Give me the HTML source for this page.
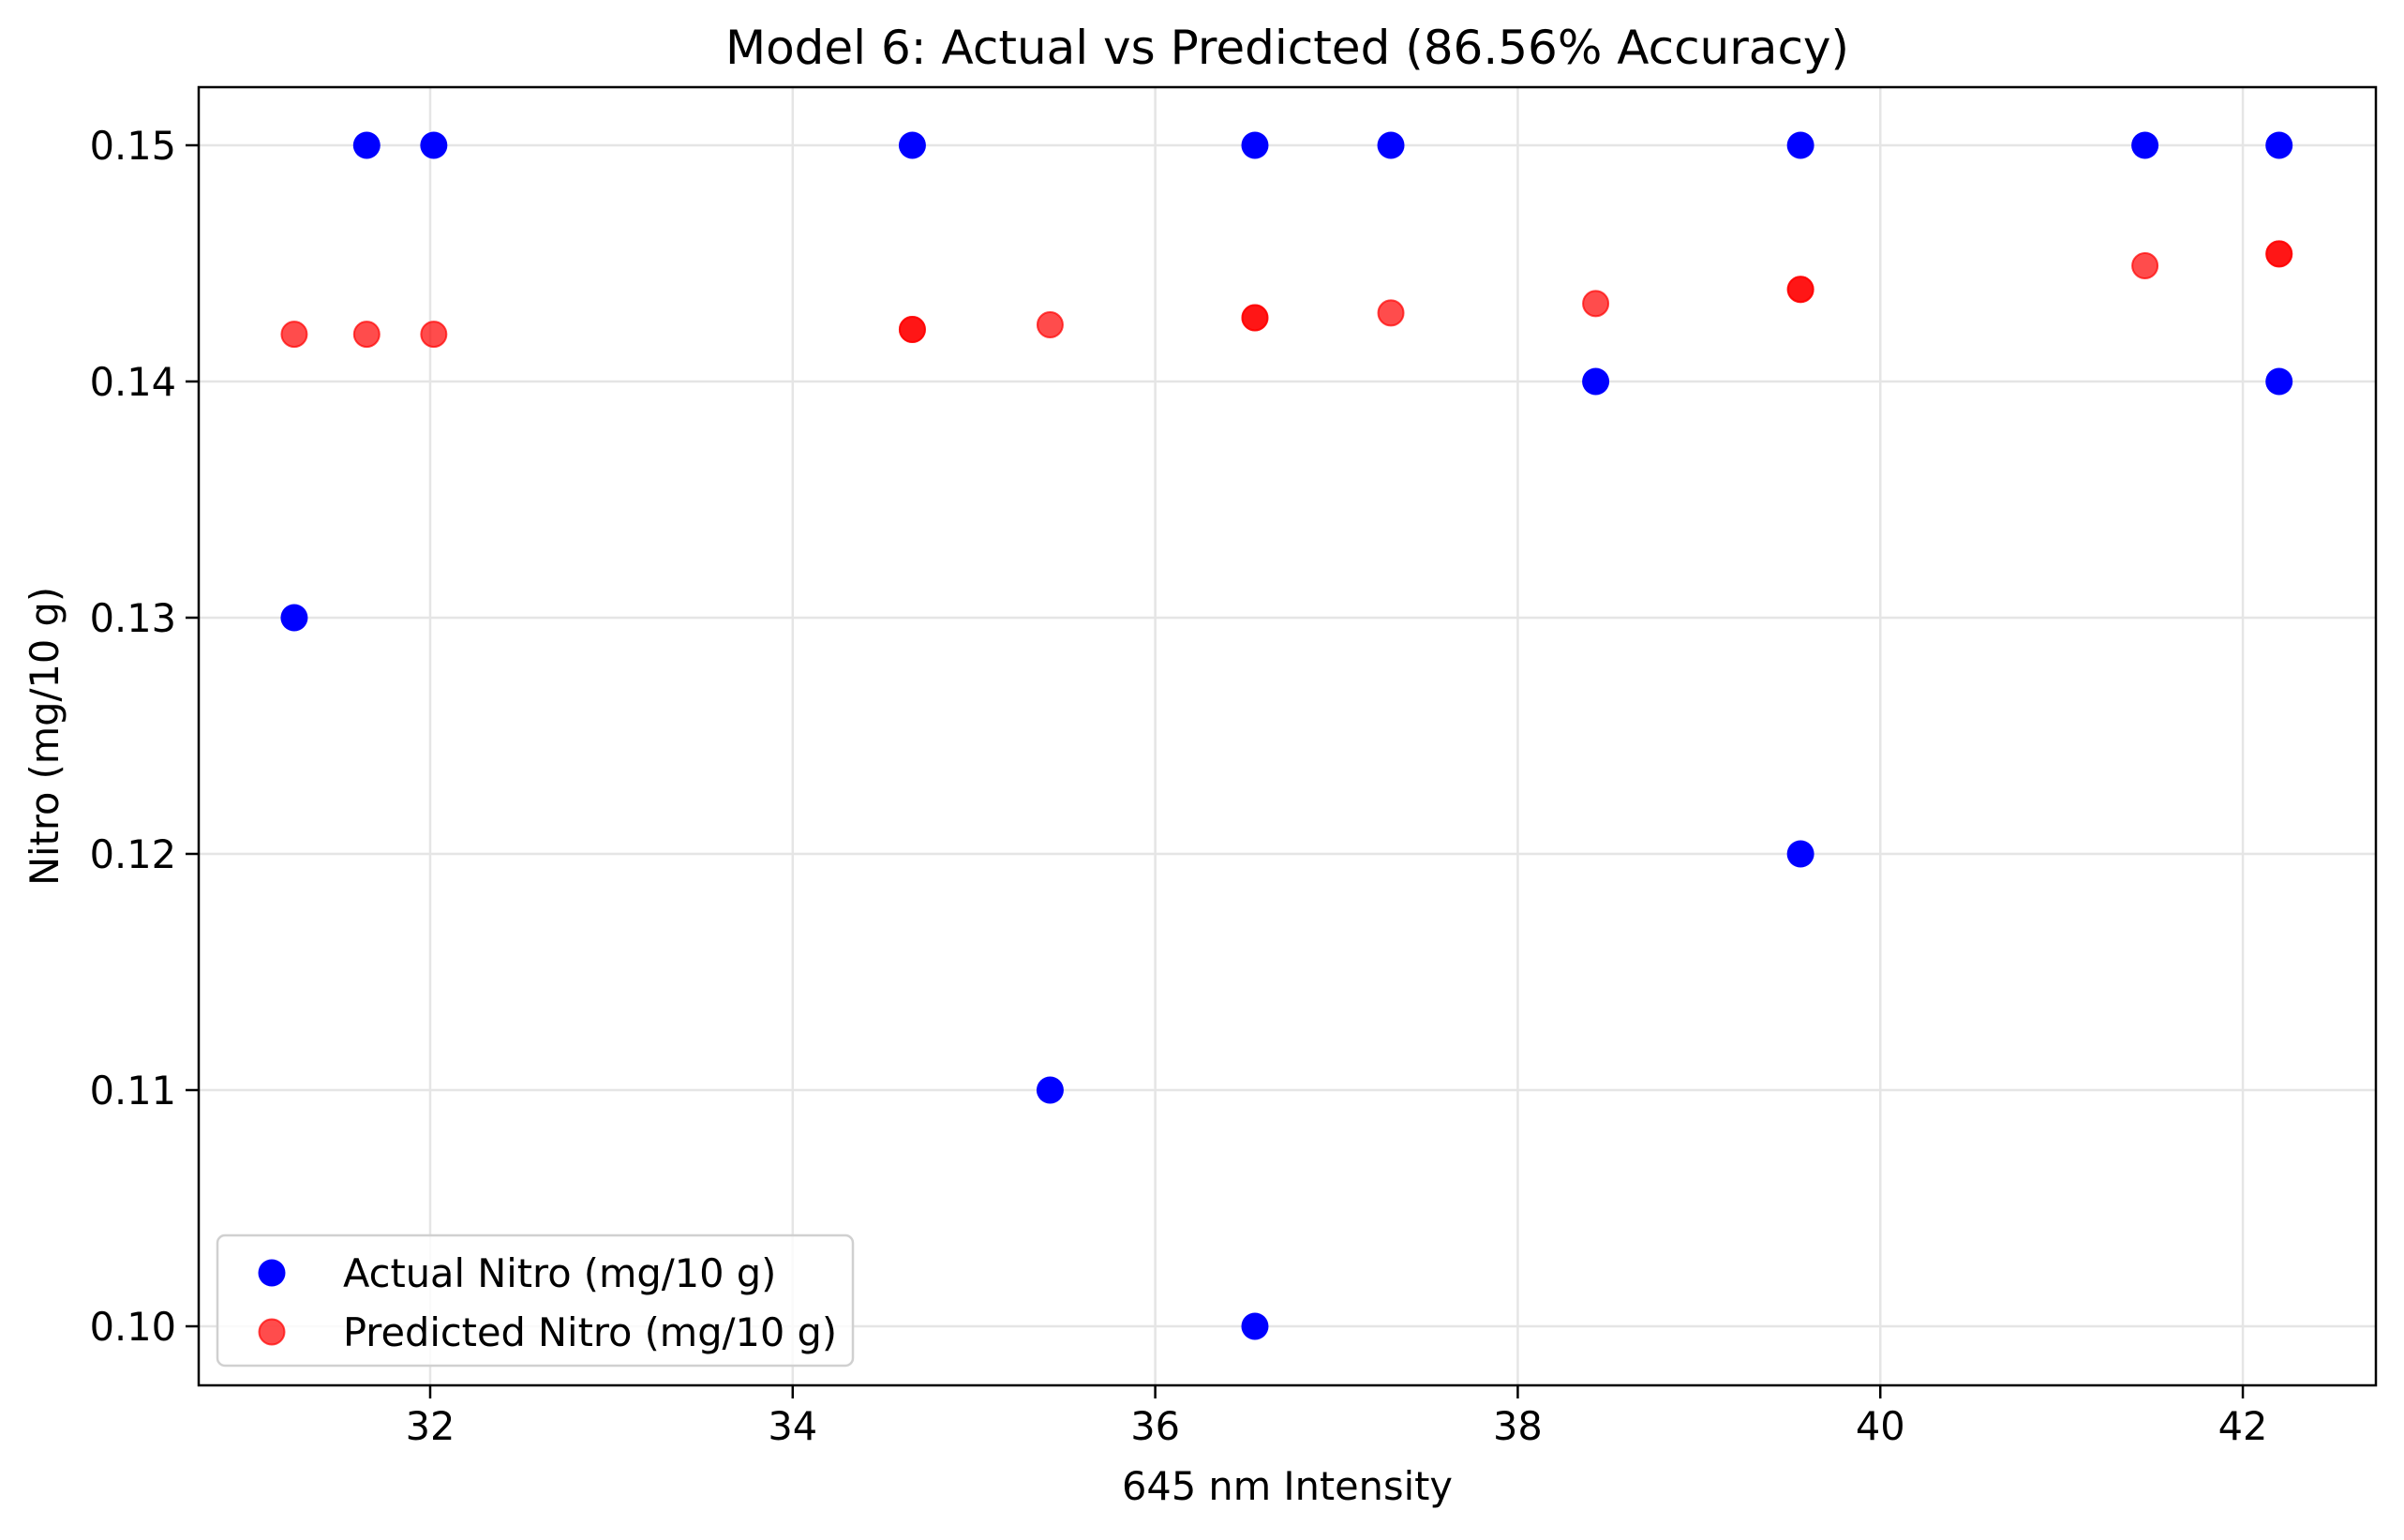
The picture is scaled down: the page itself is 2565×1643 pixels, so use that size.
<!DOCTYPE html>
<html><head><meta charset="utf-8"><style>
body{margin:0;background:#fff;}
svg text{font-family:"DejaVu Sans","Liberation Sans",sans-serif;fill:#000;}
</style></head><body>
<svg id="chart" width="2565" height="1638" viewBox="0 0 2565 1638" xmlns="http://www.w3.org/2000/svg">
<rect width="2565" height="1638" fill="#fff"/>
<g id="grid"></g><g id="marks"></g><g id="axes"></g>
</svg>
<script>
const xTicks=[32,34,36,38,40,42];
const yTicks=[0.10,0.11,0.12,0.13,0.14,0.15];
const yTickLabels=["0.10","0.11","0.12","0.13","0.14","0.15"];
const actualX=[31.25,31.65,32.02,34.66,35.42,36.55,36.55,37.3,38.43,39.56,39.56,41.46,42.2,42.2];
const actualY=[0.13,0.15,0.15,0.15,0.11,0.15,0.10,0.15,0.14,0.15,0.12,0.15,0.15,0.14];
const predX=[31.25,31.65,32.02,34.66,34.66,35.42,36.55,36.55,37.3,38.43,39.56,39.56,41.46,42.2,42.2];
const predY=[0.1420,0.1420,0.1420,0.1422,0.1422,0.1424,0.1427,0.1427,0.1429,0.1433,0.1439,0.1439,0.1449,0.1454,0.1454];
const L=212,R=2535,T=93,B=1478;
const xMin=30.723,xMax=42.734,yMin=0.0975,yMax=0.15246;
const X=v=>L+(v-xMin)/(xMax-xMin)*(R-L);
const Y=v=>B-(v-yMin)/(yMax-yMin)*(B-T);
const NS="http://www.w3.org/2000/svg";
function mk(tag,attrs,parent,text){const e=document.createElementNS(NS,tag);for(const k in attrs)e.setAttribute(k,attrs[k]);if(text!==undefined)e.textContent=text;parent.appendChild(e);return e;}
const grid=document.getElementById('grid'),marks=document.getElementById('marks'),axes=document.getElementById('axes');
xTicks.forEach(t=>{
 const g=mk('line',{x1:X(t),x2:X(t),y1:T,y2:B,stroke:'#e5e5e5','stroke-width':2.5},grid);
 
 
 const tk=mk('line',{x1:X(t),x2:X(t),y1:B,y2:B+14,stroke:'#000','stroke-width':2.5},axes);
 
 
 const lb=mk('text',{x:X(t),y:B+58,'font-size':41.5,'text-anchor':'middle'},axes,String(t));
 
 
});
yTicks.forEach((t,i)=>{
 const g=mk('line',{x1:L,x2:R,y1:Y(t),y2:Y(t),stroke:'#e5e5e5','stroke-width':2.5},grid);
 
 
 const tk=mk('line',{x1:L-14,x2:L,y1:Y(t),y2:Y(t),stroke:'#000','stroke-width':2.5},axes);
 
 
 const lb=mk('text',{x:L-24,y:Y(t)+15,'font-size':41.5,'text-anchor':'end'},axes,yTickLabels[i]);
 
 
});
actualX.forEach((x,i)=>{
 const c=mk('ellipse',{cx:X(x),cy:Y(actualY[i]),rx:14.5,ry:14.5,fill:'#0000ff'},marks);
 
 
});
predX.forEach((x,i)=>{
 const c=mk('ellipse',{cx:X(x),cy:Y(predY[i]),rx:13.5,ry:13.5,fill:'#ff0000','fill-opacity':0.7,stroke:'#ff0000','stroke-opacity':0.7,'stroke-width':2},marks);
 
 
});
const frame=mk('rect',{x:L,y:T,width:R-L,height:B-T,fill:'none',stroke:'#000','stroke-width':2.5},axes);


const title=mk('text',{x:(L+R)/2,y:68,'font-size':50,'text-anchor':'middle'},axes,'Model 6: Actual vs Predicted (86.56% Accuracy)');


const xl=mk('text',{x:(L+R)/2,y:1600,'font-size':41.5,'text-anchor':'middle'},axes,'645 nm Intensity');


const yl=mk('text',{x:0,y:0,'font-size':41.5,'text-anchor':'middle',transform:'translate(62,'+((T+B)/2)+') rotate(-90)'},axes,'Nitro (mg/10 g)');


const lg=mk('g',{},axes);


mk('rect',{x:232,y:1318,width:678,height:139,rx:8,fill:'#fff','fill-opacity':0.8,stroke:'#d0d0d0','stroke-width':2.5},lg);
const e1=mk('ellipse',{cx:290,cy:1358,rx:14.5,ry:14.5,fill:'#0000ff'},lg);


const t1=mk('text',{x:366,y:1373,'font-size':41.5},lg,'Actual Nitro (mg/10 g)');


const e2=mk('ellipse',{cx:290,cy:1421,rx:13.5,ry:13.5,fill:'#ff0000','fill-opacity':0.7,stroke:'#ff0000','stroke-opacity':0.7,'stroke-width':2},lg);


const t2=mk('text',{x:366,y:1436,'font-size':41.5},lg,'Predicted Nitro (mg/10 g)');


</script>
</body></html>
